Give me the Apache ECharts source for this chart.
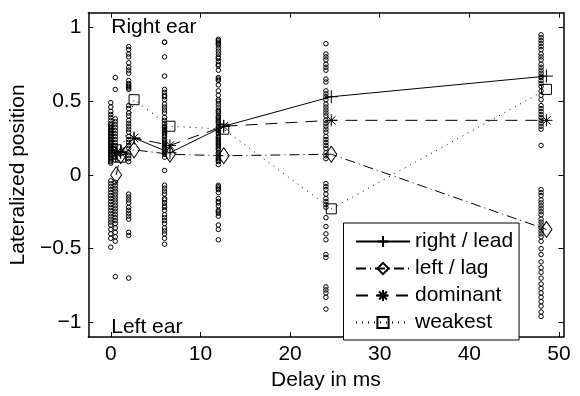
<!DOCTYPE html>
<html>
<head>
<meta charset="utf-8">
<script src="https://cdn.jsdelivr.net/npm/echarts@6/dist/echarts.min.js"></script>
<style>html,body{margin:0;padding:0;background:#fff}#c{width:580px;height:396px}</style>
</head>
<body>
<div id="c"></div>
<script>
// Individual responses per delay (ms)
const obsDelays = [0, 0.5, 2, 6, 12, 24, 48];
const obs0 = [0.49,0.46,0.43,0.41,0.39,0.37,0.35,0.34,0.33,0.32,0.31,0.30,0.29,0.28,0.27,0.26,0.25,0.24,0.23,0.22,0.21,0.20,0.19,0.18,0.17,0.16,0.15,0.14,0.13,0.12,0.11,0.10,0.09,0.08,-0.04,-0.06,-0.08,-0.10,-0.12,-0.14,-0.16,-0.18,-0.20,-0.22,-0.24,-0.26,-0.28,-0.30,-0.32,-0.34,-0.37,-0.40,-0.43,-0.49];
const obs05 = [0.66,0.58,0.38,0.36,0.34,0.32,0.30,0.28,0.26,0.24,0.22,0.20,0.18,0.16,0.14,0.12,0.10,-0.05,-0.07,-0.09,-0.11,-0.13,-0.15,-0.17,-0.19,-0.21,-0.23,-0.25,-0.27,-0.29,-0.31,-0.33,-0.36,-0.39,-0.42,-0.45,-0.69];
const obs2 = [0.87,0.85,0.82,0.80,0.76,0.73,0.71,0.69,0.64,0.62,0.61,0.60,0.59,0.58,0.47,0.45,0.42,0.40,0.37,0.35,0.33,0.31,0.29,0.26,0.24,0.22,0.20,0.18,0.15,0.13,0.11,0.09,-0.13,-0.15,-0.17,-0.19,-0.22,-0.24,-0.26,-0.28,-0.30,-0.39,-0.41,-0.70];
const obs6 = [0.90,0.90,0.80,0.67,0.58,0.56,0.54,0.53,0.51,0.48,0.46,0.44,0.42,0.39,0.37,0.35,0.33,0.32,0.31,0.30,0.29,0.28,0.27,0.26,0.24,0.23,0.22,0.21,0.20,0.19,0.18,0.17,0.16,0.15,0.14,0.12,0.03,-0.07,-0.09,-0.11,-0.13,-0.16,-0.17,-0.19,-0.21,-0.22,-0.24,-0.27,-0.29,-0.31,-0.33,-0.36,-0.38,-0.40,-0.43,-0.47];
const obs12 = [0.92,0.91,0.90,0.89,0.88,0.86,0.84,0.82,0.80,0.79,0.77,0.75,0.74,0.71,0.66,0.65,0.64,0.61,0.57,0.54,0.51,0.50,0.48,0.46,0.44,0.43,0.42,0.40,0.39,0.38,0.37,0.36,0.35,0.33,0.32,0.31,0.30,0.29,0.28,0.26,0.25,0.24,0.23,0.22,0.21,0.20,0.19,0.18,0.17,0.15,0.14,0.13,0.12,0.11,0.10,0.09,0.07,-0.07,-0.08,-0.09,-0.10,-0.12,-0.16,-0.18,-0.19,-0.21,-0.24,-0.25,-0.26,-0.28,-0.34,-0.37,-0.44];
const obs24 = [0.89,0.82,0.80,0.78,0.75,0.73,0.71,0.65,0.63,0.57,0.55,0.53,0.51,0.48,0.46,0.44,0.42,0.40,0.37,0.35,0.33,0.31,0.29,0.26,0.24,0.22,0.20,0.18,0.15,0.13,0.11,-0.06,-0.08,-0.10,-0.13,-0.16,-0.18,-0.20,-0.22,-0.29,-0.35,-0.40,-0.44,-0.54,-0.56,-0.76,-0.78,-0.80,-0.83,-0.91];
const obs48 = [0.95,0.93,0.91,0.89,0.87,0.85,0.82,0.80,0.78,0.75,0.73,0.71,0.69,0.67,0.66,0.64,0.62,0.60,0.57,0.54,0.51,0.47,0.45,0.43,0.41,0.39,0.37,0.35,0.33,0.31,0.20,-0.10,-0.12,-0.14,-0.17,-0.19,-0.21,-0.23,-0.25,-0.27,-0.30,-0.32,-0.34,-0.36,-0.38,-0.40,-0.42,-0.45,-0.50,-0.54,-0.59,-0.63,-0.66,-0.70,-0.74,-0.77,-0.80,-0.83,-0.86,-0.89,-0.93,-0.96];
const obsLists = [obs0, obs05, obs2, obs6, obs12, obs24, obs48];

// Summary markers (plotted slightly right of each delay)
const markerX = [0.6, 1.1, 2.6, 6.6, 12.6, 24.6, 48.6];
const rightLead = [0.15, 0.16, 0.25, 0.15, 0.33, 0.53, 0.67];
const leftLag   = [0.00, 0.13, 0.17, 0.14, 0.13, 0.14, -0.37];
const dominant  = [0.15, 0.15, 0.25, 0.20, 0.33, 0.37, 0.37];
const weakest   = [0.17, 0.12, 0.51, 0.33, 0.31, -0.23, 0.58];

const seriesNames = ['right / lead', 'left / lag', 'dominant', 'weakest'];
const xTicks = [0, 10, 20, 30, 40, 50];
const yTicks = [-1, -0.5, 0, 0.5, 1];
const annotations = [{x: 0.05, y: 1.0, text: 'Right ear'}, {x: 0.05, y: -1.03, text: 'Left ear'}];

const FONT = '"Liberation Sans", Arial, Helvetica, sans-serif';
const obsData = [];
obsLists.forEach((lst, i) => lst.forEach(v => obsData.push([obsDelays[i], v])));
const pair = arr => markerX.map((x, i) => [x, arr[i]]);

const PLUS = 'path://M0,5L10,5M5,0L5,10';
const STAR = 'path://M0,5L10,5M5,0L5,10M1.5,1.5L8.5,8.5M1.5,8.5L8.5,1.5';
const DASHDOT = [10, 4, 1, 4];
const DASHED = [12, 8];
const DOTTED = [1, 5];

const hollow = {color: 'rgba(0,0,0,0)', borderColor: '#000', borderWidth: 1, opacity: 1};
function lineSeries(name, arr, symbol, size, dash) {
  return {
    name, type: 'line', data: pair(arr), symbol, symbolSize: size,
    showSymbol: true, showAllSymbol: true, animation: false, z: 3,
    lineStyle: {color: '#000', width: 1, type: dash},
    itemStyle: hollow
  };
}

const chart = echarts.init(document.getElementById('c'), null, {renderer: 'canvas'});
const axisLine = {show: true, onZero: false, lineStyle: {color: '#000', width: 1.5}};
const tick = vals => ({inside: true, length: 5, customValues: vals, lineStyle: {color: '#000', width: 1}});
chart.setOption({
  animation: false,
  backgroundColor: '#fff',
  grid: {left: 82, right: 16.5, top: 12.7, bottom: 52.7, containLabel: false},
  xAxis: [
    {type: 'value', min: -2.5, max: 50.5, position: 'bottom',
     axisLine, axisTick: tick(xTicks),
     axisLabel: {customValues: xTicks, color: '#000', fontSize: 21, fontFamily: FONT, margin: 7},
     splitLine: {show: false},
     name: 'Delay in ms', nameLocation: 'middle', nameGap: 32,
     nameTextStyle: {color: '#000', fontSize: 21, fontFamily: FONT}},
    {type: 'value', min: -2.5, max: 50.5, position: 'top',
     axisLine, axisTick: tick(xTicks),
     axisLabel: {show: false}, splitLine: {show: false}}
  ],
  yAxis: [
    {type: 'value', min: -1.1, max: 1.1, position: 'left',
     axisLine, axisTick: tick(yTicks),
     axisLabel: {customValues: yTicks, color: '#000', fontSize: 21, fontFamily: FONT, margin: 7,
       formatter: v => String(v).replace('-', '\u2212')},
     splitLine: {show: false},
     name: 'Lateralized position', nameLocation: 'middle', nameGap: 36,
     nameTextStyle: {color: '#000', fontSize: 21, fontFamily: FONT}},
    {type: 'value', min: -1.1, max: 1.1, position: 'right',
     axisLine, axisTick: tick(yTicks),
     axisLabel: {show: false}, splitLine: {show: false}}
  ],
  legend: {
    orient: 'vertical', left: 343.5, top: 223,
    backgroundColor: '#fff', borderColor: '#000', borderWidth: 1,
    padding: [8, 6, 7, 11.5], itemGap: 6, itemWidth: 54, itemHeight: 14,
    textStyle: {color: '#000', fontSize: 21, lineHeight: 21, fontFamily: FONT},
    data: [
      {name: seriesNames[0], lineStyle: {type: 'solid'}},
      {name: seriesNames[1], lineStyle: {type: DASHDOT}},
      {name: seriesNames[2], lineStyle: {type: DASHED}},
      {name: seriesNames[3], lineStyle: {type: DOTTED}}
    ]
  },
  series: [
    {type: 'scatter', name: 'obs', data: obsData, symbol: 'circle', symbolSize: 4.5,
     itemStyle: {color: 'rgba(0,0,0,0)', borderColor: '#000', borderWidth: 1, opacity: 1}, z: 2, silent: true},
    lineSeries(seriesNames[0], rightLead, PLUS, 13, 'solid'),
    lineSeries(seriesNames[1], leftLag, 'diamond', [11, 16], DASHDOT),
    lineSeries(seriesNames[2], dominant, STAR, 12, DASHED),
    lineSeries(seriesNames[3], weakest, 'rect', 10, DOTTED),
    {type: 'scatter', name: 'annot', silent: true, symbolSize: 0,
     itemStyle: {color: 'rgba(0,0,0,0)', opacity: 1},
     data: annotations.map(a => ({value: [a.x, a.y], label: {formatter: a.text}})),
     label: {show: true, position: 'inside', align: 'left', verticalAlign: 'middle',
       color: '#000', textBorderWidth: 0, textBorderColor: 'transparent',
       fontSize: 21, fontFamily: FONT}}
  ]
});
</script>
</body>
</html>
